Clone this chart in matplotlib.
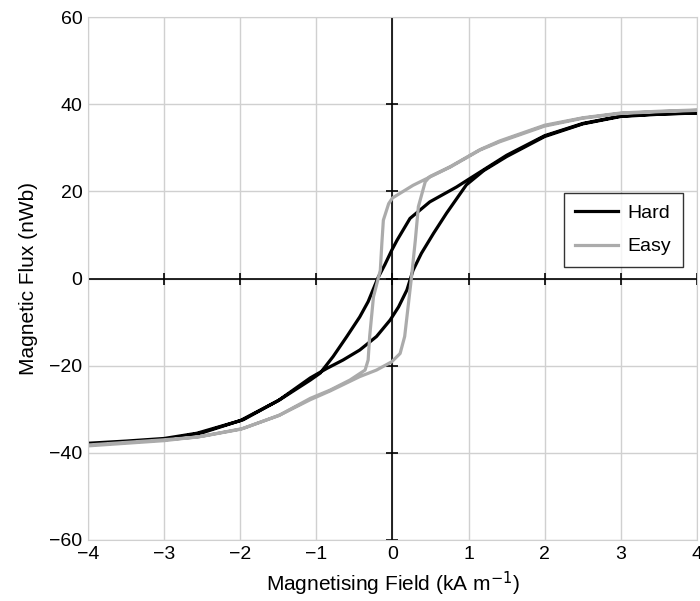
import numpy as np
import matplotlib
matplotlib.use("Agg")
import matplotlib.pyplot as plt

plt.rcParams['font.family'] = ['Liberation Sans', 'DejaVu Sans']
plt.rcParams['mathtext.default'] = 'regular'

# Hard axis loop: upper branch (field going down), then lower branch (field going up)
hard_up_h = [4.0, 3.5, 3.0, 2.5, 2.0, 1.5, 1.02, 0.84, 0.49, 0.23, 0.06, -0.01, -0.1, -0.19,
             -0.32, -0.43, -0.6, -0.78, -0.95, -1.08, -1.48, -1.96, -2.57, -3.0, -3.5, -4.0]
hard_up_b = [38.0, 37.8, 37.3, 35.6, 32.8, 28.3, 23.0, 21.0, 17.6, 13.8, 8.8, 6.5, 3.2, 0.2,
             -5.3, -8.8, -13.3, -17.9, -21.7, -23.3, -27.8, -32.4, -35.5, -36.7, -37.3, -37.8]
hard_lo_h = [-4.0, -3.5, -3.0, -2.5, -2.0, -1.5, -1.08, -0.86, -0.65, -0.43, -0.21, -0.03, 0.08,
             0.19, 0.27, 0.38, 0.54, 0.71, 0.89, 0.97, 1.2, 1.5, 2.0, 2.5, 3.0, 3.5, 4.0]
hard_lo_b = [-38.0, -37.6, -37.0, -35.4, -32.6, -28.0, -22.8, -20.6, -18.7, -16.4, -13.3, -9.5,
             -6.5, -2.6, 1.9, 5.8, 10.4, 15.0, 19.5, 21.5, 24.8, 28.0, 32.6, 35.5, 37.2, 37.7, 38.0]

# Easy axis loop
easy_up_h = [4.0, 3.5, 3.0, 2.5, 2.0, 1.41, 1.15, 0.76, 0.49, 0.27, 0.0, -0.05, -0.12, -0.14,
             -0.16, -0.25, -0.3, -0.32, -0.36, -0.56, -0.82, -1.08, -1.48, -1.96, -2.57, -3.0,
             -3.5, -4.0]
easy_up_b = [38.6, 38.3, 37.9, 36.8, 35.0, 31.4, 29.5, 25.6, 23.3, 21.4, 18.5, 17.2, 13.4, 8.0,
             1.9, -4.2, -13.3, -18.7, -21.0, -23.3, -25.6, -27.5, -31.3, -34.4, -36.4, -37.0,
             -37.6, -38.2]
easy_lo_h = [-4.0, -3.5, -3.0, -2.5, -2.0, -1.5, -1.08, -0.82, -0.43, -0.21, -0.01, 0.1, 0.16,
             0.21, 0.25, 0.3, 0.34, 0.43, 0.49, 0.76, 1.15, 1.41, 2.0, 2.5, 3.0, 3.5, 4.0]
easy_lo_b = [-38.4, -37.8, -37.2, -36.2, -34.6, -31.5, -27.8, -25.8, -22.5, -21.0, -19.1, -17.2,
             -13.3, -5.7, 0.4, 8.8, 16.5, 22.2, 23.4, 25.7, 29.6, 31.6, 35.2, 36.9, 38.0, 38.4,
             38.7]

x_ticks = [-4, -3, -2, -1, 0, 1, 2, 3, 4]
y_ticks = [-60, -40, -20, 0, 20, 40, 60]

fig = plt.figure(figsize=(7, 6.01), dpi=100)
ax = fig.add_axes([0.1257, 0.1015, 0.87, 0.870])

ax.plot(hard_up_h + hard_lo_h, hard_up_b + hard_lo_b, color='black', lw=2.3, label='Hard')
ax.plot(easy_up_h + easy_lo_h, easy_up_b + easy_lo_b, color='#ababab', lw=2.3, label='Easy')

ax.set_xlim(-4, 4)
ax.set_ylim(-60, 60)
ax.set_xticks(x_ticks)
ax.set_yticks(y_ticks)
ax.grid(True, color='#d0d0d0', lw=1)
ax.set_axisbelow(True)
for s in ax.spines.values():
    s.set_color('#d0d0d0')
ax.tick_params(length=0, labelsize=14, pad=4)

# axes through the origin with crossing ticks
ax.axhline(0, color='black', lw=1.2, zorder=1.5)
ax.axvline(0, color='black', lw=1.2, zorder=1.5)
ax.plot(x_ticks, [0] * len(x_ticks), ls='none', marker='|', ms=9, mew=1.2, color='black', zorder=1.5)
ax.plot([0] * len(y_ticks), y_ticks, ls='none', marker='_', ms=9, mew=1.2, color='black', zorder=1.5)

ax.set_xlabel('Magnetising Field (kA m$^{\\mathsf{-1}}$)', fontsize=15, labelpad=5)
ax.set_ylabel('Magnetic Flux (nWb)', fontsize=15, labelpad=8)

leg = ax.legend(loc='center right', bbox_to_anchor=(0.977, 0.593), fontsize=14, frameon=True,
                fancybox=False, edgecolor='black', handlelength=2.2, borderpad=0.6,
                labelspacing=0.8, handletextpad=0.5, borderaxespad=0)
leg.get_frame().set_linewidth(1.0)

fig.savefig('out.png', dpi=100)
